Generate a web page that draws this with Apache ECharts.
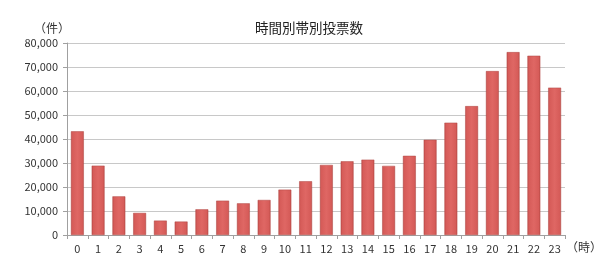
<!DOCTYPE html>
<html><head><meta charset="utf-8">
<script src="https://cdn.jsdelivr.net/npm/echarts@6/dist/echarts.min.js"></script>
<style>html,body{margin:0;padding:0;background:#fff}#c{width:600px;height:278px}</style>
</head><body><div id="c"></div>
<script>
const hours = ['0','1','2','3','4','5','6','7','8','9','10','11','12','13','14','15','16','17','18','19','20','21','22','23'];
const votes = [43200, 28900, 16100, 9200, 6000, 5600, 10700, 14300, 13200, 14600, 18900, 22400, 29200, 30700, 31400, 28800, 33000, 39700, 46800, 53700, 68300, 76200, 74700, 61400];
const title = '時間別帯別投票数';
const yUnit = '（件）';
const xUnit = '（時）';
const font = '"Noto Sans CJK JP", "Noto Sans", sans-serif';
const chart = echarts.init(document.getElementById('c'), null, {renderer: 'canvas'});
chart.setOption({
  animation: false,
  backgroundColor: '#fff',
  title: {text: title, left: 304, top: 16, textAlign: 'center',
    textStyle: {fontFamily: font, fontSize: 13.5, fontWeight: 'normal', color: '#222'}},
  grid: {left: 67, right: 35, top: 43, bottom: 43},
  graphic: [
    {type: 'text', left: 34, top: 22, style: {text: yUnit, font: '12px ' + font, fill: '#333'}},
    {type: 'text', left: 566, top: 241, style: {text: xUnit, font: '12px ' + font, fill: '#333'}}
  ],
  xAxis: {type: 'category', data: hours,
    axisLine: {lineStyle: {color: '#a0a0a0'}},
    axisTick: {show: true, alignWithLabel: false, length: 4, lineStyle: {color: '#a0a0a0'}},
    axisLabel: {color: '#333', fontSize: 11, fontFamily: font, margin: 8}},
  yAxis: {type: 'value', min: 0, max: 80000, interval: 10000,
    axisLine: {show: true, lineStyle: {color: '#a0a0a0'}},
    axisTick: {show: true, length: 4, lineStyle: {color: '#a0a0a0'}},
    splitLine: {lineStyle: {color: '#c8c8c8'}},
    axisLabel: {color: '#333', fontSize: 11, fontFamily: font, margin: 9,
      formatter: v => v.toLocaleString('en-US')}},
  series: [{type: 'bar', data: votes, barCategoryGap: '38%',
    itemStyle: {
      color: new echarts.graphic.LinearGradient(0, 0, 1, 0, [
        {offset: 0, color: '#c24e4b'}, {offset: 0.12, color: '#d65c59'},
        {offset: 0.5, color: '#df6764'}, {offset: 0.88, color: '#d65c59'}, {offset: 1, color: '#c24e4b'}]),
      borderColor: '#b04844', borderWidth: 0.5}
  }]
});
</script></body></html>
